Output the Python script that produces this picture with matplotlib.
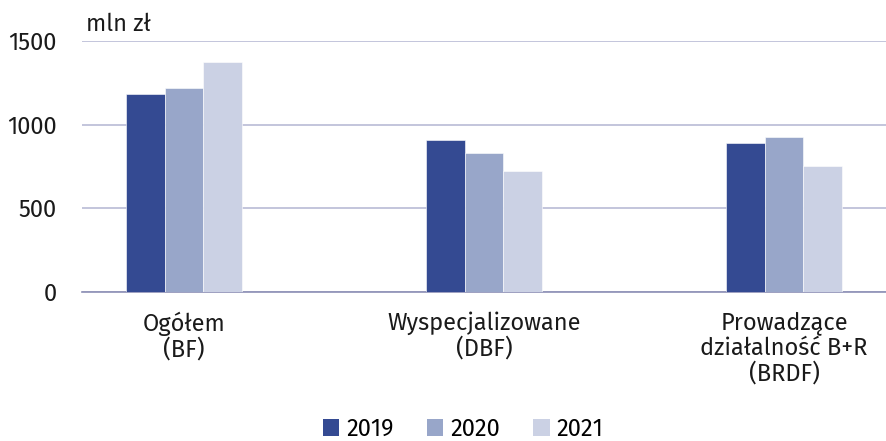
import matplotlib.pyplot as plt
import numpy as np
from matplotlib.patches import Patch

plt.rcParams['font.family'] = ['Fira Sans', 'Noto Sans', 'DejaVu Sans']

categories = ['Ogółem\n(BF)', 'Wyspecjalizowane\n(DBF)', 'Prowadzące\ndziałalność B+R\n(BRDF)']
years = ['2019', '2020', '2021']
v2019 = [1184, 908, 889]
v2020 = [1220, 829, 925]
v2021 = [1375, 723, 753]
colors = ['#344a92', '#98a6c9', '#cbd1e4']

fig = plt.figure(figsize=(8.87, 4.41), dpi=100)
ax = fig.add_axes([82 / 887, 1 - 292 / 441, 1 - 82 / 887, 251 / 441])

x = np.arange(len(categories)) * 1.0
w = 0.128
for i, (vals, c) in enumerate(zip([v2019, v2020, v2021], colors)):
    ax.bar(x + (i - 1) * w, vals, width=w, color=c, zorder=3,
           edgecolor='white', linewidth=0.4)

ax.set_ylim(0, 1500)
ax.set_xlim(-0.34, 2.343)
ax.set_yticks([0, 500, 1000, 1500])
ax.yaxis.grid(True, color='#b9bbd6', linewidth=1.2, zorder=0)
ax.set_axisbelow(True)
for s in ['top', 'right', 'left']:
    ax.spines[s].set_visible(False)
ax.spines['bottom'].set_color('#8c8fb5')
ax.spines['bottom'].set_linewidth(1.2)
ax.tick_params(axis='y', length=0, pad=18, labelsize=17, labelcolor='#1a1a1a')
ax.tick_params(axis='x', length=0, pad=14, labelsize=17, labelcolor='#1a1a1a')
ax.set_xticks(x)
ax.set_xticklabels(categories, linespacing=1.08)

fig.text(86 / 887, 1 - 24 / 441, 'mln zł', fontsize=17, va='center', color='#1a1a1a')

handles = [Patch(facecolor=c, label=y) for c, y in zip(colors, years)]
fig.legend(handles=handles, loc='center', bbox_to_anchor=(463 / 887, 1 - 429 / 441),
           ncol=3, frameon=False, fontsize=17, handlelength=0.7, handleheight=0.7,
           handletextpad=0.3, columnspacing=1.4, borderpad=0.1)

fig.savefig('out.png', dpi=100)
